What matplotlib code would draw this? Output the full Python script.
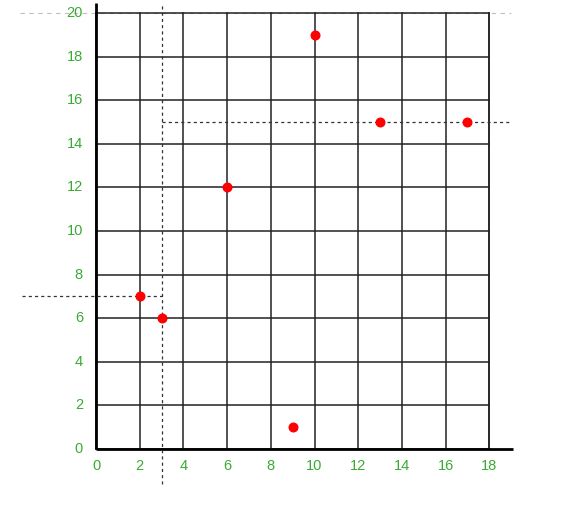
import matplotlib
matplotlib.use("Agg")
import matplotlib.pyplot as plt
import numpy as np

# data
xs = [2, 3, 6, 9, 10, 13, 17]
ys = [7, 6, 12, 1, 19, 15, 15]
x_ticks = list(range(0, 19, 2))
y_ticks = list(range(0, 21, 2))
x_tick_labels = [str(v) for v in x_ticks]
y_tick_labels = [str(v) for v in y_ticks]

plt.rcParams['font.family'] = ['Liberation Sans', 'DejaVu Sans']

fig = plt.figure(figsize=(5.63, 5.05), dpi=100)
ax = fig.add_axes([0, 0, 1, 1])
px_per_x = 21.85
px_per_y = 21.8
ax.set_xlim((0 - 96) / px_per_x, (563 - 96) / px_per_x)
ax.set_ylim((449 - 505) / px_per_y, 449 / px_per_y)
ax.axis("off")

label_color = "#3aaa35"

# top light dashed line
ax.plot([-3.5, 19.0], [20, 20], color="#c0c0c0", lw=0.8, ls=(0, (4, 4)), zorder=1)

# grid
for xv in x_ticks:
    ax.plot([xv, xv], [0, 20], color="#222222", lw=1.1, zorder=2)
for yv in y_ticks:
    ax.plot([0, 18], [yv, yv], color="#222222", lw=1.1, zorder=2)
ax.plot([18, 18], [0, 20], color="#222222", lw=1.1, zorder=2)

# axes lines
ax.plot([0, 0], [0, 20.45], color="black", lw=2.0, zorder=3, solid_capstyle="butt")
ax.plot([0, 19.1], [0, 0], color="black", lw=2.0, zorder=3, solid_capstyle="butt")

# dashed guide lines
dash = (0, (2.5, 2.5))
ax.plot([3, 3], [-1.6, 20.4], color="#333333", lw=0.9, ls=dash, zorder=3)
ax.plot([-3.4, 3], [7, 7], color="#333333", lw=0.9, ls=dash, zorder=3)
ax.plot([3, 19.0], [15, 15], color="#333333", lw=0.9, ls=dash, zorder=3)

# points
ax.plot(xs, ys, ls="none", marker="o", ms=6.2, color="#ff0000", mec="#ff0000", zorder=5)

# tick labels
for xv, lab in zip(x_ticks, x_tick_labels):
    ax.text(xv, -0.8, lab, color=label_color, ha="center", va="center", fontsize=10.5)
for yv, lab in zip(y_ticks, y_tick_labels):
    ax.text(-0.6, yv, lab, color=label_color, ha="right", va="center", fontsize=10.5)

fig.savefig("out.png", dpi=100)
